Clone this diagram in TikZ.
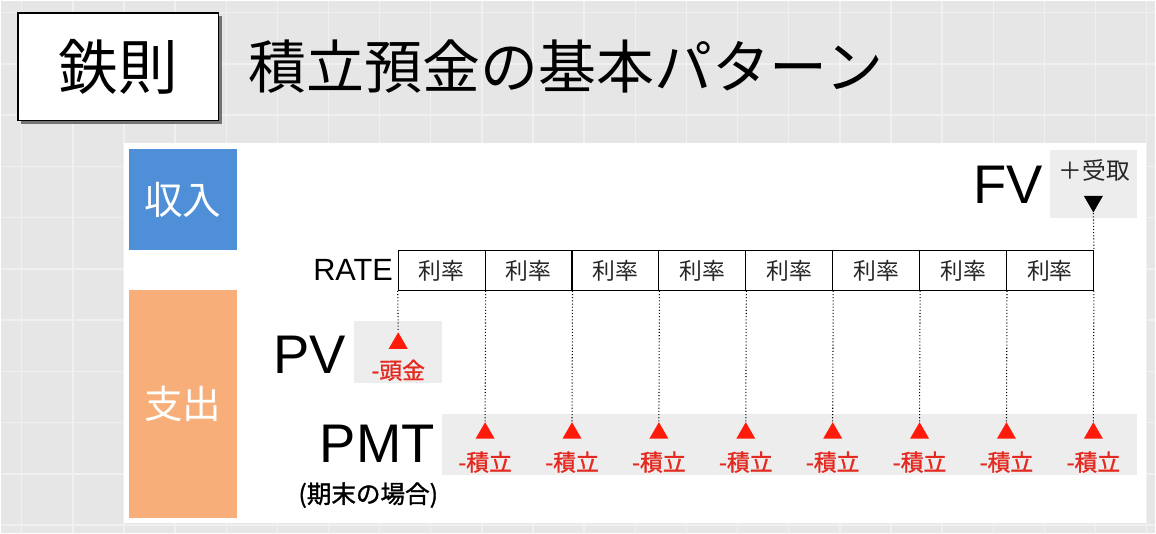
\documentclass[tikz,border=0pt]{standalone}
\usepackage{fontspec}
\setmainfont{Liberation Sans}
\newfontfamily\jp{Noto Sans CJK JP}
\newfontfamily\jpmed[FakeBold=1.3]{Noto Sans CJK JP}
\usepackage{tikz}
\usetikzlibrary{shapes, positioning, shadows}
\definecolor{gridbg}{HTML}{E6E6E6}
\definecolor{gridln}{HTML}{F0F0F0}
\definecolor{incblue}{HTML}{4E8FD8}
\definecolor{exporange}{HTML}{F7AE78}
\definecolor{boxgray}{HTML}{EDEDED}
\definecolor{markred}{HTML}{FF1A0A}
\definecolor{textred}{HTML}{E42A20}
\tikzset{rule node/.style={draw, line width=1pt, fill=white, minimum width=4.02cm, minimum height=2.16cm,
    drop shadow={shadow xshift=2pt, shadow yshift=-2pt, fill=black!55, opacity=1}, font=\jp\fontsize{34}{40}\selectfont},
  title node/.style={anchor=west, inner sep=0, font=\jp\fontsize{33}{40}\selectfont},
  side node/.style={minimum width=2.18cm, inner sep=0, text=white, font=\jp\fontsize{22}{26}\selectfont},
  rate node/.style={draw, line width=0.6pt, minimum width=1.74cm, minimum height=0.8cm, inner sep=0, text=black!85, font=\jp\fontsize{13}{16}\selectfont},
  big label/.style={anchor=east, inner sep=0, font=\fontsize{31}{36}\selectfont},
  gray box/.style={fill=boxgray, inner sep=0},
  mark node/.style={regular polygon, regular polygon sides=3, minimum size=0.44cm, inner sep=0, fill=markred},
  red label/.style={text=textred, inner sep=0, font=\jpmed\fontsize{13}{15}\selectfont},
  guide/.style={line width=0.6pt, dash pattern=on 0.6pt off 1.2pt}
}
\begin{document}
\begin{tikzpicture}[x=0.02cm, y=-0.02cm]
  % Background grid
  \fill[gridbg] (0,0) rectangle (1156,533);
  \foreach \k in {0,...,22} \draw[gridln, line width=0.8pt] (21+51.2*\k,0) -- (21+51.2*\k,533);
  \foreach \k in {0,...,10} \draw[gridln, line width=0.8pt] (0,12+51.3*\k) -- (1156,12+51.3*\k);
  \useasboundingbox (0,0) rectangle (1156,533);
  % Title
  \node[rule node] (rule) at (117.5,66) {鉄則};
  \node[title node] (title) at (248,66) {積立預金の基本パターン};
  % Panel
  \fill[white] (123,142) rectangle (1147,523);
  \node[side node, fill=incblue, minimum height=2.04cm] (inc) at (182.5,199) {収入};
  \node[side node, fill=exporange, minimum height=4.56cm] (exp) at (182.5,404) {支出};
  % Gray boxes
  \node[gray box, minimum width=1.74cm, minimum height=1.38cm] (fvbox) at (1094.5,183.5) {};
  \node[gray box, minimum width=1.76cm, minimum height=1.24cm] (pvbox) at (398,352) {};
  \node[gray box, minimum width=13.92cm, minimum height=1.22cm] (pmtbox) at (790,444.5) {};
  % Labels
  \node[big label] (fv) at (1044,184) {FV};
  \node[big label] (pv) at (346,355) {PV};
  \node[big label] (pmt) at (435,444) {PMT};
  \node[anchor=east, inner sep=0, font=\fontsize{17.5}{20}\selectfont] (rate) at (393,270) {RATE};
  \node[inner sep=0, font=\jpmed\fontsize{14}{17}\selectfont] (term) at (368,495) {(期末の場合)};
  % FV
  \node[inner sep=0, text=black!85, font=\jp\fontsize{13.5}{16}\selectfont] (get) at (1095,170) {＋受取};
  \node[mark node, fill=black, shape border rotate=180] (fvm) at (1094,201) {};
  % PV
  \node[mark node] (pvm) at (398,343) {};
  \node[red label] (pvl) at (398,370) {-頭金};
  % Rate and PMT
  \foreach \i in {1,...,8} {
    \node[rate node] (r\i) at ({441.5+87*(\i-1)},270) {利率};
    \node[mark node] (m\i) at ({398+87*\i},433) {};
    \node[red label] (l\i) at ({398+87*\i},462) {-積立};
    \draw[guide] (r\i.south east) -- (m\i.north);
  }
  % Connections
  \draw[guide] (r1.south west) -- (pvm.north);
  \draw[guide] (fvm.south) -- (r8.north east);
\end{tikzpicture}
\end{document}
